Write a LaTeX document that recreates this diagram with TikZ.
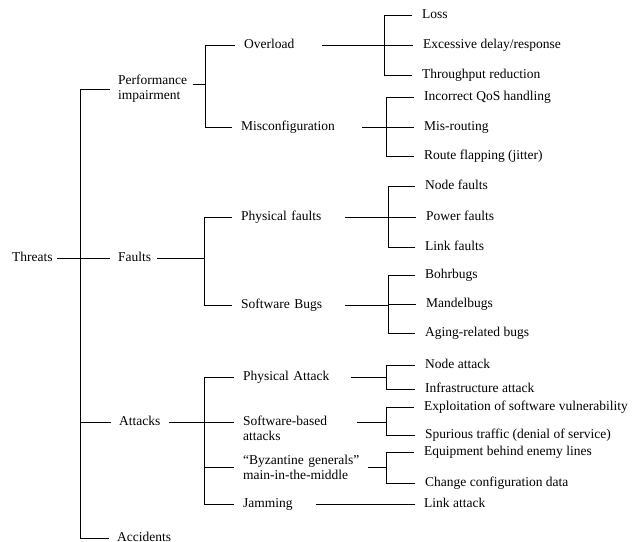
\documentclass[tikz,border=0pt]{standalone}
\usepackage{fontspec}
\setmainfont{Liberation Serif}
\begin{document}
\begin{tikzpicture}[x=1pt,y=-1pt,
  lbl/.style={anchor=west, inner sep=0pt, align=left,
    font=\fontsize{13.5}{15.5}\selectfont, execute at begin node=\strut},
  wire/.style={draw=black, line width=0.8pt},
  feed1/.style={wire, shorten >=8pt},
  feed2/.style={wire, shorten >=9pt},
  feed3/.style={wire, shorten >=10pt}]
\useasboundingbox (0,0) rectangle (632,541);

% ---------- root and first level ----------
\node[lbl, text width=45pt]  (threats) at (12,258)  {Threats};
\node[lbl, text width=75pt]  (perf)    at (118,89)  {Performance\\impairment\strut};
\node[lbl, text width=39pt]  (faults)  at (118,258) {Faults};
\node[lbl, text width=50pt]  (attacks) at (119,422) {Attacks};
\node[lbl, text width=80pt]  (accid)   at (117,538) {Accidents};

% ---------- second level ----------
\node[lbl, text width=78pt]  (overload) at (244,45)  {Overload};
\node[lbl, text width=121pt] (misconf)  at (241,127) {Misconfiguration};
\node[lbl, text width=104pt] (physf)    at (241,217) {Physical faults};
\node[lbl, text width=104pt] (swbugs)   at (241,305) {Software Bugs};
\node[lbl, text width=108pt] (phya)     at (243,377) {Physical Attack};
\node[lbl, text width=114pt] (swatk)    at (243,429.75) {Software-based\\attacks\strut};
\node[lbl, text width=125pt] (byz)      at (243,469) {“Byzantine generals”\\main-in-the-middle\strut};
\node[lbl, text width=73pt]  (jam)      at (243,504.5) {Jamming};

% ---------- leaves ----------
\node[lbl] (loss)    at (422,15)  {Loss};
\node[lbl] (excess)  at (423,45)  {Excessive delay/response};
\node[lbl] (thru)    at (422,75)  {Throughput reduction};
\node[lbl] (qos)     at (424,97)  {Incorrect QoS handling};
\node[lbl] (misr)    at (424,127) {Mis-routing};
\node[lbl] (flap)    at (424,156) {Route flapping (jitter)};
\node[lbl] (nodef)   at (425,186) {Node faults};
\node[lbl] (powerf)  at (426,217) {Power faults};
\node[lbl] (linkf)   at (425,247) {Link faults};
\node[lbl] (bohr)    at (425,275) {Bohrbugs};
\node[lbl] (mandel)  at (426,304) {Mandelbugs};
\node[lbl] (aging)   at (425,333) {Aging-related bugs};
\node[lbl] (nodea)   at (425,365) {Node attack};
\node[lbl] (infra)   at (425,389) {Infrastructure attack};
\node[lbl] (exploit) at (424,407) {Exploitation of software vulnerability};
\node[lbl] (spur)    at (425,435) {Spurious traffic (denial of service)};
\node[lbl] (equip)   at (424,452) {Equipment behind enemy lines};
\node[lbl] (change)  at (425,483) {Change configuration data};
\node[lbl] (linka)   at (424,504.5) {Link attack};

% ---------- bus positions ----------
\coordinate (b0)  at (80,0);
\coordinate (bP)  at (205,0);
\coordinate (bF)  at (204,0);
\coordinate (bA)  at (204,0);
\coordinate (bOv) at (384,0);
\coordinate (bMc) at (386,0);
\coordinate (bPf) at (388,0);
\coordinate (bSb) at (388,0);
\coordinate (bPa) at (386,0);
\coordinate (bSa) at (386,0);
\coordinate (bBz) at (386,0);

% ports of the two-line labels
\coordinate (perfout)  at ([yshift=5pt]perf.east);
\coordinate (swatkin)  at ([yshift=7.75pt]swatk.west);
\coordinate (swatkout) at ([yshift=7.75pt]swatk.east);
\coordinate (byzin)    at ([yshift=2pt]byz.west);
\coordinate (byzout)   at ([yshift=2pt]byz.east);

% ---------- root connectors ----------
\draw[feed1] (threats.east) -- (faults.west);
\draw[wire] (perf.west -| b0) -- (accid.west -| b0);
\foreach \n in {perf, attacks, accid}
  \draw[feed1] (\n.west -| b0) -- (\n.west);

% ---------- performance impairment ----------
\draw[wire] (perfout) -- (perfout -| bP);
\draw[wire] (overload.west -| bP) -- (misconf.west -| bP);
\foreach \n in {overload, misconf}
  \draw[feed2] (\n.west -| bP) -- (\n.west);

% ---------- faults ----------
\draw[wire] (faults.east) -- (faults.east -| bF);
\draw[wire] (physf.west -| bF) -- (swbugs.west -| bF);
\foreach \n in {physf, swbugs}
  \draw[feed2] (\n.west -| bF) -- (\n.west);

% ---------- attacks ----------
\draw[feed2] (attacks.east) -- (swatkin);
\draw[wire] (phya.west -| bA) -- (jam.west -| bA);
\draw[feed2] (phya.west -| bA) -- (phya.west);
\draw[feed2] (byzin -| bA) -- (byzin);
\draw[feed2] (jam.west -| bA) -- (jam.west);

% ---------- leaves ----------
\draw[wire] (overload.east) -- (overload.east -| bOv);
\draw[wire] (loss.west -| bOv) -- (thru.west -| bOv);
\foreach \n in {loss, excess, thru}
  \draw[feed3] (\n.west -| bOv) -- (\n.west);

\draw[wire] (misconf.east) -- (misconf.east -| bMc);
\draw[wire] (qos.west -| bMc) -- (flap.west -| bMc);
\foreach \n in {qos, misr, flap}
  \draw[feed3] (\n.west -| bMc) -- (\n.west);

\draw[wire] (physf.east) -- (physf.east -| bPf);
\draw[wire] (nodef.west -| bPf) -- (linkf.west -| bPf);
\foreach \n in {nodef, powerf, linkf}
  \draw[feed3] (\n.west -| bPf) -- (\n.west);

\draw[wire] (swbugs.east) -- (swbugs.east -| bSb);
\draw[wire] (bohr.west -| bSb) -- (aging.west -| bSb);
\foreach \n in {bohr, mandel, aging}
  \draw[feed3] (\n.west -| bSb) -- (\n.west);

\draw[wire] (phya.east) -- (phya.east -| bPa);
\draw[wire] (nodea.west -| bPa) -- (infra.west -| bPa);
\foreach \n in {nodea, infra}
  \draw[feed3] (\n.west -| bPa) -- (\n.west);

\draw[wire] (swatkout) -- (swatkout -| bSa);
\draw[wire] (exploit.west -| bSa) -- (spur.west -| bSa);
\foreach \n in {exploit, spur}
  \draw[feed3] (\n.west -| bSa) -- (\n.west);

\draw[wire] (byzout) -- (byzout -| bBz);
\draw[wire] (equip.west -| bBz) -- (change.west -| bBz);
\foreach \n in {equip, change}
  \draw[feed3] (\n.west -| bBz) -- (\n.west);

\draw[feed2] (jam.east) -- (linka.west);
\end{tikzpicture}
\end{document}
